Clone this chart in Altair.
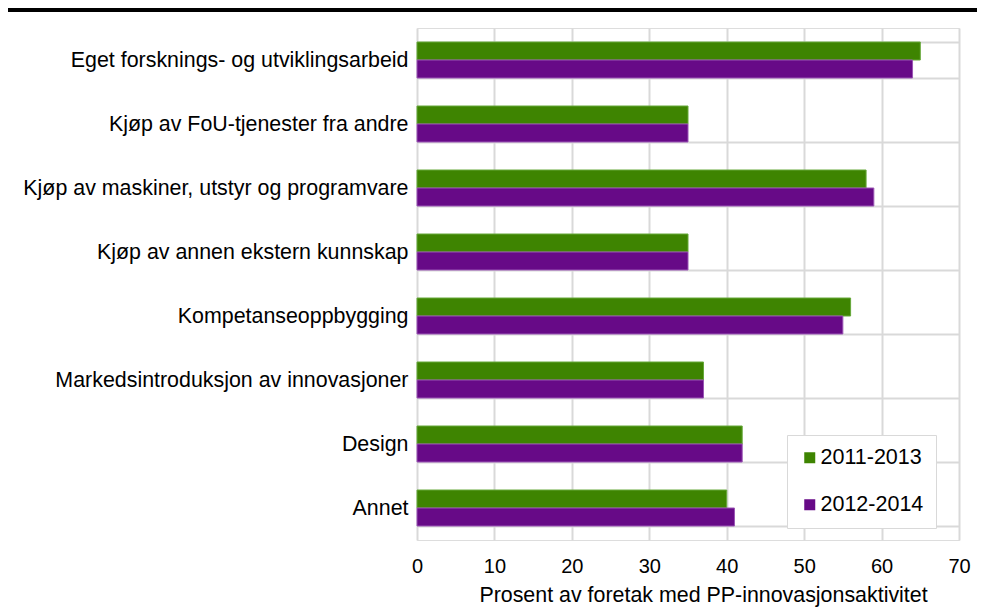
import altair as alt
import pandas as pd

categories = [
    "Eget forsknings- og utviklingsarbeid",
    "Kjøp av FoU-tjenester fra andre",
    "Kjøp av maskiner, utstyr og programvare",
    "Kjøp av annen ekstern kunnskap",
    "Kompetanseoppbygging",
    "Markedsintroduksjon av innovasjoner",
    "Design",
    "Annet",
]
periods = ["2011-2013", "2012-2014"]
values_2011_2013 = [65, 35, 58, 35, 56, 37, 42, 40]
values_2012_2014 = [64, 35, 59, 35, 55, 37, 42, 41]
x_ticks = [0, 10, 20, 30, 40, 50, 60, 70]
x_title = "Prosent av foretak med PP-innovasjonsaktivitet"

fill_colors = ["#3E8401", "#670A87"]
stroke_colors = ["#66A83A", "#9A55B4"]
grid_color = "#D9D9D9"
FONT = "Liberation Sans"

rows = []
for c, v in zip(categories, values_2011_2013):
    rows.append({"kategori": c, "periode": periods[0], "verdi": v})
for c, v in zip(categories, values_2012_2014):
    rows.append({"kategori": c, "periode": periods[1], "verdi": v})
df = pd.DataFrame(rows)

bars = alt.Chart(df).mark_bar(strokeWidth=1).encode(
    y=alt.Y(
        "kategori:N",
        sort=categories,
        scale=alt.Scale(paddingInner=0.4375, paddingOuter=0.21875),
        axis=alt.Axis(
            title=None,
            labelFont=FONT,
            labelFontSize=21.4,
            labelColor="black",
            labelPadding=9,
            labelLimit=600,
            ticks=False,
            domain=False,
            grid=True,
            gridColor=grid_color,
            gridWidth=2,
            tickBand="extent",
        ),
    ),
    x=alt.X(
        "verdi:Q",
        scale=alt.Scale(domain=[0, 70], nice=False),
        axis=alt.Axis(
            values=x_ticks,
            title=x_title,
            titleFont=FONT,
            titleFontSize=21.4,
            titleFontWeight="normal",
            titleColor="black",
            titlePadding=8,
            titleX=286,
            labelFont=FONT,
            labelFontSize=20,
            labelColor="black",
            labelPadding=16,
            labelFlush=False,
            ticks=False,
            domain=False,
            grid=True,
            gridColor=grid_color,
            gridWidth=2,
        ),
    ),
    yOffset=alt.YOffset("periode:N", sort=periods),
    color=alt.Color(
        "periode:N",
        scale=alt.Scale(domain=periods, range=fill_colors),
        legend=alt.Legend(
            title=None,
            orient="none",
            legendX=370,
            legendY=407,
            symbolType="square",
            symbolSize=121,
            symbolStrokeWidth=0,
            symbolOffset=0,
            labelFont=FONT,
            labelFontSize=21.5,
            labelColor="black",
            labelOffset=0,
            rowPadding=24,
            padding=12,
            strokeColor=grid_color,
            fillColor="white",
        ),
    ),
    stroke=alt.Stroke(
        "periode:N",
        scale=alt.Scale(domain=periods, range=stroke_colors),
        legend=None,
    ),
)

top_rule = alt.Chart(alt.Data(values=[{}])).mark_rule(color="black", strokeWidth=4).encode(
    x=alt.value(-409), x2=alt.value(560), y=alt.value(-18)
)

chart = alt.layer(bars, top_rule).properties(
    width=542,
    height=512,
    autosize=alt.AutoSizeParams(type="none"),
    padding={"left": 409, "top": 20, "right": 18, "bottom": 76},
).configure_view(stroke=grid_color, strokeWidth=2).configure(font=FONT)

chart.save("out.html", embed_options={"renderer": "svg", "actions": False})
